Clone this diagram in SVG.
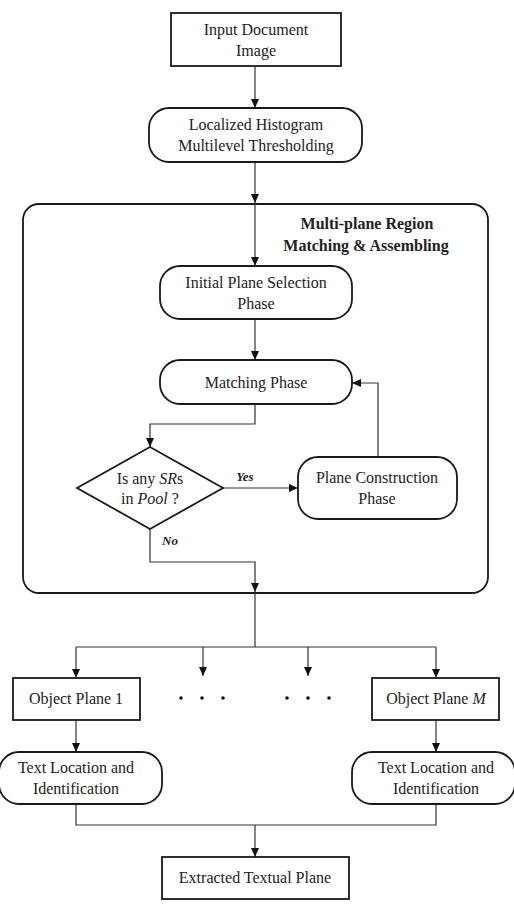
<svg xmlns="http://www.w3.org/2000/svg" width="514" height="904" viewBox="0 0 514 904">
<defs>
<marker id="ah" markerUnits="userSpaceOnUse" markerWidth="10" markerHeight="10" refX="9" refY="4" orient="auto">
<path d="M0,0 L9,4 L0,8 z" fill="#111"/>
</marker>
<style>
.box{fill:#fff;stroke:#1a1a1a;stroke-width:1.8}
.con{fill:none;stroke:#333;stroke-width:1.2}
.arr{fill:none;stroke:#333;stroke-width:1.2;marker-end:url(#ah)}
text{font-size:16px;fill:#222;text-anchor:middle}
.b{font-weight:bold}
.bi{font-weight:bold;font-style:italic;font-size:13px}
.i{font-style:italic}
.dot{fill:#111}
</style>
</defs>
<rect width="514" height="904" fill="#fff"/>
<g font-family="'Liberation Serif', Tinos, 'Times New Roman', 'Noto Serif', 'DejaVu Serif', serif">
<g id="outer">
<rect class="box" x="23" y="204" width="465" height="389" rx="16"/>
<text class="b" x="367" y="229">Multi-plane Region</text>
<text class="b" x="366" y="251">Matching &amp; Assembling</text>
</g>

<g id="connectors">
<line class="arr" x1="255" y1="66" x2="255" y2="108"/>
<line class="arr" x1="255" y1="162" x2="255" y2="203"/>
<line class="arr" x1="255" y1="204" x2="255" y2="266"/>
<line class="arr" x1="255" y1="319" x2="255" y2="360"/>
<polyline class="arr" points="255,404 255,424 150,424 150,447"/>
<line class="arr" x1="223" y1="488" x2="298" y2="488"/>
<polyline class="arr" points="378,457 378,383 352,383"/>
<polyline class="arr" points="150,529 150,562 255,562 255,592"/>
<polyline class="con" points="255,593 255,647"/>
<line class="con" x1="76" y1="647" x2="436" y2="647"/>
<line class="arr" x1="76" y1="647" x2="76" y2="678"/>
<line class="arr" x1="203" y1="647" x2="203" y2="676"/>
<line class="arr" x1="308" y1="647" x2="308" y2="676"/>
<line class="arr" x1="436" y1="647" x2="436" y2="678"/>
<line class="arr" x1="76" y1="720" x2="76" y2="752"/>
<line class="arr" x1="436" y1="720" x2="436" y2="752"/>
<polyline class="con" points="76,804 76,825 436,825 436,804"/>
<line class="arr" x1="255" y1="825" x2="255" y2="857"/>
<text class="bi" x="245" y="481">Yes</text>
<text class="bi" x="170" y="545">No</text>
</g>

<g id="input">
<rect class="box" x="171" y="13" width="170" height="53"/>
<text x="256" y="35">Input Document</text>
<text x="256" y="56">Image</text>
</g>

<g id="threshold">
<rect class="box" x="149" y="108" width="213" height="54" rx="20"/>
<text x="256" y="130">Localized Histogram</text>
<text x="256" y="151">Multilevel Thresholding</text>
</g>

<g id="initial">
<rect class="box" x="160" y="266" width="192" height="53" rx="20"/>
<text x="256" y="288">Initial Plane Selection</text>
<text x="256" y="309">Phase</text>
</g>

<g id="matching">
<rect class="box" x="160" y="360" width="192" height="44" rx="20"/>
<text x="256" y="388">Matching Phase</text>
</g>

<g id="decision">
<polygon class="box" points="150,447 223,488 150,529 77,488"/>
<text x="150" y="484">Is any <tspan class="i">SR</tspan>s</text>
<text x="150" y="504">in <tspan class="i">Pool</tspan> ?</text>
</g>

<g id="construction">
<rect class="box" x="298" y="457" width="159" height="62" rx="20"/>
<text x="377" y="483">Plane Construction</text>
<text x="377" y="504">Phase</text>
</g>

<g id="plane1">
<rect class="box" x="13" y="678" width="127" height="42"/>
<text x="76" y="704">Object Plane 1</text>
</g>

<g id="dots">
<circle class="dot" cx="181" cy="698" r="1.8"/>
<circle class="dot" cx="202" cy="698" r="1.8"/>
<circle class="dot" cx="223" cy="698" r="1.8"/>
<circle class="dot" cx="287" cy="698" r="1.8"/>
<circle class="dot" cx="308" cy="698" r="1.8"/>
<circle class="dot" cx="329" cy="698" r="1.8"/>
</g>

<g id="planeM">
<rect class="box" x="372" y="678" width="127" height="42"/>
<text x="436" y="704">Object Plane <tspan class="i">M</tspan></text>
</g>

<g id="textloc1">
<rect class="box" x="-1" y="752" width="163" height="52" rx="20"/>
<text x="76" y="773">Text Location and</text>
<text x="76" y="794">Identification</text>
</g>

<g id="textlocM">
<rect class="box" x="352" y="752" width="163" height="52" rx="20"/>
<text x="436" y="773">Text Location and</text>
<text x="436" y="794">Identification</text>
</g>

<g id="extracted">
<rect class="box" x="162" y="857" width="187" height="42"/>
<text x="255" y="883">Extracted Textual Plane</text>
</g>
</g>
</svg>
